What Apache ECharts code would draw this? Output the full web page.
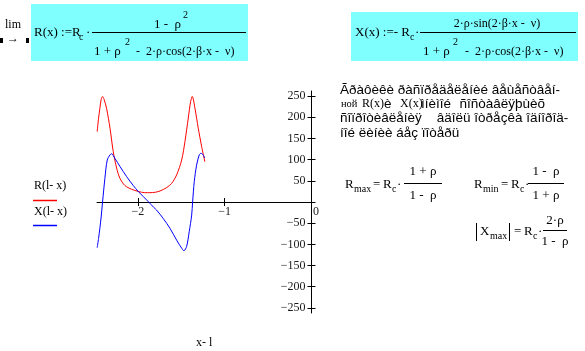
<!DOCTYPE html>
<html>
<head>
<meta charset="UTF-8">
<title>R(x), X(x)</title>
<style>
body{margin:0;padding:0;background:#fff;}
#chart{width:585px;height:351px;}
</style>
</head>
<body>
<div id="chart"></div>
<script src="https://cdn.jsdelivr.net/npm/echarts@6/dist/echarts.min.js"></script>
<script>
// R(l-x)
var argR = [-2.468, -2.452, -2.437, -2.422, -2.406, -2.388, -2.360, -2.320, -2.283, -2.244, -2.206, -2.149, -2.071, -1.995, -1.920, -1.861, -1.800, -1.745, -1.668, -1.610, -1.553, -1.495, -1.457, -1.419, -1.392, -1.373, -1.342, -1.304, -1.265, -1.228];
var valR = [166, 198, 221, 242, 249, 242, 221, 174, 119, 80, 56, 39, 30, 25, 22, 22, 23, 26, 34, 44, 64, 99, 143, 198, 237, 249, 221, 174, 131, 95];
// X(l-x)
var argX = [-2.468, -2.452, -2.437, -2.421, -2.406, -2.379, -2.352, -2.321, -2.302, -2.264, -2.206, -2.129, -2.053, -1.995, -1.938, -1.880, -1.815, -1.784, -1.707, -1.630, -1.553, -1.495, -1.469, -1.438, -1.408, -1.380, -1.369, -1.350, -1.323, -1.293, -1.273, -1.247, -1.230];
var valX = [-108, -86, -62, -33, 0, 56, 99, 111, 114, 103, 84, 60, 39, 25, 13, 1, -13, -19, -39, -62, -90, -109, -115, -105, -70, -31, 0, 48, 87, 111, 115, 111, 104];

var yTicks = [-250, -200, -150, -100, -50, 0, 50, 100, 150, 200, 250];
var yLabels = [-250, -200, -150, -100, -50, 50, 100, 150, 200, 250];
var xTicks = [-2, -1, 0];

function pairs(a, b) {
  var out = [];
  for (var i = 0; i < a.length; i++) out.push([a[i], b[i]]);
  return out;
}
function num(v) {
  return v < 0 ? '\u2212' + (-v) : '' + v;
}

var SERIF = '"Liberation Serif", "DejaVu Serif", serif';
var SANS = '"Liberation Sans", Arial, sans-serif';

// graphic text helper
function t(x, y, s, size, align, fam) {
  return {
    type: 'text', x: x, y: y, silent: true,
    style: {
      text: s, fill: '#000',
      font: (size || 13) + 'px ' + (fam || SERIF),
      align: align || 'left', verticalAlign: 'middle',
      textAlign: align || 'left', textVerticalAlign: 'middle'
    }
  };
}
function ln(x1, y1, x2, y2, col, w) {
  return {
    type: 'line', silent: true,
    shape: {x1: x1, y1: y1, x2: x2, y2: y2},
    style: {stroke: col || '#000', lineWidth: w || 1}
  };
}
function box(x, y, w, h) {
  return {type: 'rect', silent: true, shape: {x: x, y: y, width: w, height: h}, style: {fill: '#80ffff'}};
}

var CAP = 13.5;
var pieces = [
  // lim ->
  t(5, 25, 'lim', 12),
  t(7, 39, '\u2192', 12),
  {type: 'rect', silent: true, shape: {x: 0, y: 38, width: 3, height: 5}, style: {fill: '#000'}},
  {type: 'rect', silent: true, shape: {x: 26, y: 38, width: 3, height: 5}, style: {fill: '#000'}},

  // R(x) definition
  box(31, 4, 217, 57),
  t(34, 33, 'R(x) :=R'),
  t(79, 37, 'c', 10),
  t(86, 33, '\u00b7'),
  ln(92, 32.5, 246, 32.5),
  t(181, 25, '1 -  \u03c1', 13, 'right'),
  t(183, 15, '2', 10),
  t(94, 52, '1 + \u03c1'),
  t(125, 42, '2', 10),
  t(136, 52, '-  2\u00b7\u03c1\u00b7cos(2\u00b7\u03b2\u00b7x -  \u03bd)', 12),

  // X(x) definition
  box(351, 12, 227, 49),
  t(355, 33, 'X(x) :=- R'),
  t(410, 37, 'c', 10),
  t(415, 33, '\u00b7'),
  ln(420, 32.5, 576, 32.5),
  t(497, 24, '2\u00b7\u03c1\u00b7sin(2\u00b7\u03b2\u00b7x -  \u03bd)', 12, 'center'),
  t(423, 52, '1 + \u03c1'),
  t(453, 42, '2', 10),
  t(465, 52, '-  2\u00b7\u03c1\u00b7cos(2\u00b7\u03b2\u00b7x -  \u03bd)', 12),

  // caption (cp1251 shown as latin-1, as in the source)
  t(340, 90, '\u00c3\u00f0\u00e0\u00f4\u00e8\u00ea\u00e8 \u00f0\u00e0\u00f1\u00ef\u00f0\u00e5\u00e4\u00e5\u00eb\u00e5\u00ed\u00e8\u00e9 \u00e2\u00e5\u00f9\u00e5\u00f1\u00f2\u00e2\u00e5\u00ed-', CAP, 'left', SANS),
  t(341, 104, '\u043d\u043e\u0439', 10.5),
  t(362, 104, 'R(x)', 12),
  t(384, 104, '\u00e8', CAP, 'left', SANS),
  t(400, 104, 'X(x)', 12),
  t(421, 104, '\u00ec\u00ed\u00e8\u00ec\u00ee\u00e9', CAP, 'left', SANS),
  t(545, 104, '\u00f1\u00ee\u00f1\u00f2\u00e0\u00e2\u00eb\u00ff\u00fe\u00f9\u00e8\u00f5', CAP, 'right', SANS),
  t(340, 118, '\u00f1\u00ee\u00ef\u00f0\u00ee\u00f2\u00e8\u00e2\u00eb\u00e5\u00ed\u00e8\u00ff    \u00e2\u00e4\u00ee\u00eb\u00fc \u00ee\u00f2\u00f0\u00e5\u00e7\u00ea\u00e0 \u00ee\u00e4\u00ed\u00ee\u00f0\u00ee\u00e4-', CAP, 'left', SANS),
  t(340, 133, '\u00ed\u00ee\u00e9 \u00eb\u00e8\u00ed\u00e8\u00e8 \u00e1\u00e5\u00e7 \u00ef\u00ee\u00f2\u00e5\u00f0\u00fc', CAP, 'left', SANS),

  // Rmax
  t(345, 185, 'R'), t(354, 189, 'max', 10), t(373, 185, '='), t(383, 185, 'R'), t(392, 189, 'c', 10), t(397, 185, '\u00b7'),
  ln(404, 183.5, 442, 183.5),
  t(423, 172, '1 + \u03c1', 13, 'center'), t(423, 196, '1 -  \u03c1', 13, 'center'),
  // Rmin
  t(474, 185, 'R'), t(483, 189, 'min', 10), t(501, 185, '='), t(511, 185, 'R'), t(520, 189, 'c', 10), t(525, 185, '\u00b7'),
  ln(528, 183.5, 564, 183.5),
  t(546, 172, '1 -  \u03c1', 13, 'center'), t(546, 196, '1 + \u03c1', 13, 'center'),
  // |Xmax|
  ln(476.5, 223, 476.5, 241), ln(509.5, 223, 509.5, 241),
  t(480, 232, 'X'), t(490, 236, 'max', 10), t(514, 232, '='), t(524, 232, 'R'), t(533, 236, 'c', 10), t(538, 232, '\u00b7'),
  ln(543, 230.5, 567, 230.5),
  t(555, 221, '2\u00b7\u03c1', 13, 'center'), t(555, 242, '1 -  \u03c1', 13, 'center'),

  // trace legend
  t(34, 186, 'R(l- x)', 12),
  ln(33, 200.5, 57, 200.5, '#ff0000', 1.5),
  t(34, 212, 'X(l- x)', 12),
  ln(33, 225.5, 57, 225.5, '#0000ff', 1.5)
];

var labelStyle = {color: '#1a1a1a', fontFamily: SERIF, fontSize: 12};

var option = {
  animation: false,
  backgroundColor: '#fff',
  grid: {left: 97, top: 91, width: 214.5, height: 222, outerBoundsMode: 'none', containLabel: false},
  xAxis: [{
    type: 'value', min: -2.47, max: 0, position: 'bottom', offset: -111,
    axisLine: {onZero: false, lineStyle: {color: '#000', width: 1}},
    axisTick: {length: 4, customValues: xTicks, lineStyle: {color: '#000'}},
    axisLabel: Object.assign({
      customValues: xTicks, margin: 4,
      formatter: function (v) { return v === 0 ? '{z|0}' : num(v); },
      rich: {z: {padding: [0, 0, 0, 9], fontFamily: SERIF, fontSize: 12, color: '#1a1a1a'}}
    }, labelStyle),
    splitLine: {show: false},
    name: 'x- l', nameLocation: 'middle', nameGap: 135,
    nameTextStyle: {color: '#000', fontFamily: SERIF, fontSize: 12}
  }, {
    type: 'value', min: -2.47, max: 0, position: 'bottom', offset: -111,
    axisLine: {show: false, onZero: false},
    axisTick: {inside: true, length: 4, customValues: xTicks, lineStyle: {color: '#000'}},
    axisLabel: {show: false},
    splitLine: {show: false}
  }],
  yAxis: [{
    type: 'value', min: -262, max: 262, position: 'right',
    axisLine: {show: true, onZero: false, lineStyle: {color: '#000', width: 1}},
    axisTick: {show: true, length: 4, customValues: yTicks, lineStyle: {color: '#000'}},
    axisLabel: Object.assign({customValues: yLabels, inside: true, margin: 6, formatter: num}, labelStyle),
    splitLine: {show: false}
  }, {
    type: 'value', min: -262, max: 262, position: 'right',
    axisLine: {show: false, onZero: false},
    axisTick: {show: true, inside: true, length: 4, customValues: yTicks, lineStyle: {color: '#000'}},
    axisLabel: {show: false},
    splitLine: {show: false}
  }],
  graphic: pieces,
  series: [{
    name: 'R(l- x)', type: 'line', data: pairs(argR, valR),
    showSymbol: false, smooth: 0.3, clip: false,
    lineStyle: {color: '#ff0000', width: 1}, itemStyle: {color: '#ff0000'}
  }, {
    name: 'X(l- x)', type: 'line', data: pairs(argX, valX),
    showSymbol: false, smooth: 0.3, clip: false,
    lineStyle: {color: '#0000ff', width: 1}, itemStyle: {color: '#0000ff'}
  }]
};

var chart = echarts.init(document.getElementById('chart'), null, {renderer: 'canvas'});
chart.setOption(option);
</script>
</body>
</html>
